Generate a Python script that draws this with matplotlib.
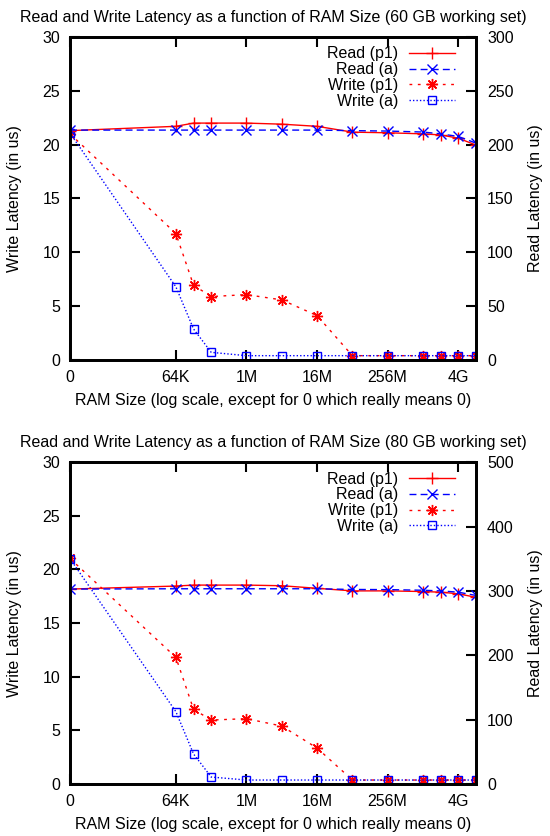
"""
Read and write latency vs RAM size, two working sets
"""

import matplotlib
matplotlib.use("Agg")
import matplotlib.pyplot as plt

plt.rcParams['font.family'] = ['Liberation Sans', 'DejaVu Sans']
plt.rcParams['font.size'] = 11.5

# RAM sizes in bytes; 0 really means 0 but is drawn at 1K on the log axis
ram_sizes = [0, 2**16, 2**17, 2**18, 2**20, 2**22, 2**24, 2**26, 2**28,
             2**30, 2**31, 2**32, 2**33]
zero_pos = 2**10
tick_vals = [0, 2**16, 2**20, 2**24, 2**28, 2**32]
tick_labels = ['0', '64K', '1M', '16M', '256M', '4G']

# 60 GB working set
read_p1_60 = [213, 217, 220, 220, 220, 219, 217, 211.6, 211, 210, 209, 206, 199.6]
read_a_60 = [213.5, 213.5, 213.5, 213.5, 213.5, 213.5, 213.5, 213, 212.6, 211.7, 210, 207.6, 201.4]
write_p1_60 = [21.0, 11.74, 6.94, 5.89, 6.07, 5.58, 4.12, 0.4, 0.4, 0.4, 0.4, 0.4, 0.4]
write_a_60 = [21.07, 6.79, 2.88, 0.71, 0.4, 0.4, 0.4, 0.4, 0.4, 0.4, 0.4, 0.4, 0.4]

# 80 GB working set
read_p1_80 = [302.8, 307.5, 309, 309, 309, 308, 304, 300, 300, 299, 298, 295.5, 290]
read_a_80 = [302.8, 303.3, 303.3, 303.3, 303.3, 303.3, 303.3, 302.2, 302, 301, 300, 298, 292.9]
write_p1_80 = [21.02, 11.8, 6.96, 5.96, 6.09, 5.4, 3.35, 0.37, 0.37, 0.37, 0.37, 0.37, 0.37]
write_a_80 = [21.0, 6.74, 2.8, 0.65, 0.37, 0.37, 0.37, 0.37, 0.37, 0.37, 0.37, 0.37, 0.37]


def xpos(vals):
    return [zero_pos if v == 0 else v for v in vals]


def draw(fig, rect, title, read_p1, read_a, write_p1, write_a, rmax, rstep):
    ax = fig.add_axes(rect)
    ax2 = ax.twinx()
    x = xpos(ram_sizes)

    # read latency on the right axis, write on the left
    l1, = ax2.plot(x, read_p1, color='#ff0000', lw=1, ls='-', marker='+',
                   ms=9, mew=1, label='Read (p1)')
    l2, = ax2.plot(x, read_a, color='#0000ff', lw=1, ls=(0, (5, 3)), marker='x',
                   ms=7, mew=1, label='Read (a)')
    l3, = ax.plot(x, write_p1, color='#ff0000', lw=1, ls=(0, (2, 4)),
                  marker=(8, 2, 0), ms=8, mew=1, label='Write (p1)')
    l4, = ax.plot(x, write_a, color='#0000ff', lw=1, ls=(0, (1, 1.5)), marker='s',
                  ms=6, mew=1, mfc='none', label='Write (a)')

    ax.set_xscale('log', base=2)
    ax.set_xlim(2**10, 2**33)
    ax.set_ylim(0, 30)
    ax2.set_ylim(0, rmax)
    ax.set_xticks(xpos(tick_vals))
    ax.set_xticklabels(tick_labels)
    ax.minorticks_off()
    ax.set_yticks(range(0, 31, 5))
    ax2.set_yticks(range(0, rmax + 1, rstep))

    ax.tick_params(axis='x', direction='in', length=7, width=1.5, top=True, pad=7)
    ax.tick_params(axis='y', direction='in', length=7, width=1.5, pad=7)
    ax2.tick_params(axis='y', direction='in', length=7, width=1.5, pad=8)
    for a in (ax, ax2):
        for s in a.spines.values():
            s.set_linewidth(2)

    ax.set_title(title, fontsize=11.5, pad=11)
    ax.set_xlabel('RAM Size (log scale, except for 0 which really means 0)', labelpad=6)
    ax.set_ylabel('Write Latency (in us)', labelpad=15)
    ax2.set_ylabel('Read Latency (in us)', rotation=90, labelpad=10)

    leg = ax2.legend(handles=[l1, l2, l3, l4], loc='upper right', frameon=False,
                     markerfirst=False, handlelength=2.9, borderaxespad=0.5,
                     labelspacing=0.05, handletextpad=0.7,
                     bbox_to_anchor=(0.985, 1.015))
    for t in leg.get_texts():
        t.set_ha('right')


fig = plt.figure(figsize=(5.5, 8.36), dpi=100)
draw(fig, [0.1273, 0.5694, 0.738, 0.3864],
     'Read and Write Latency as a function of RAM Size (60 GB working set)',
     read_p1_60, read_a_60, write_p1_60, write_a_60, 300, 50)
draw(fig, [0.1273, 0.0622, 0.738, 0.385],
     'Read and Write Latency as a function of RAM Size (80 GB working set)',
     read_p1_80, read_a_80, write_p1_80, write_a_80, 500, 100)

fig.savefig('out.png', dpi=100)
